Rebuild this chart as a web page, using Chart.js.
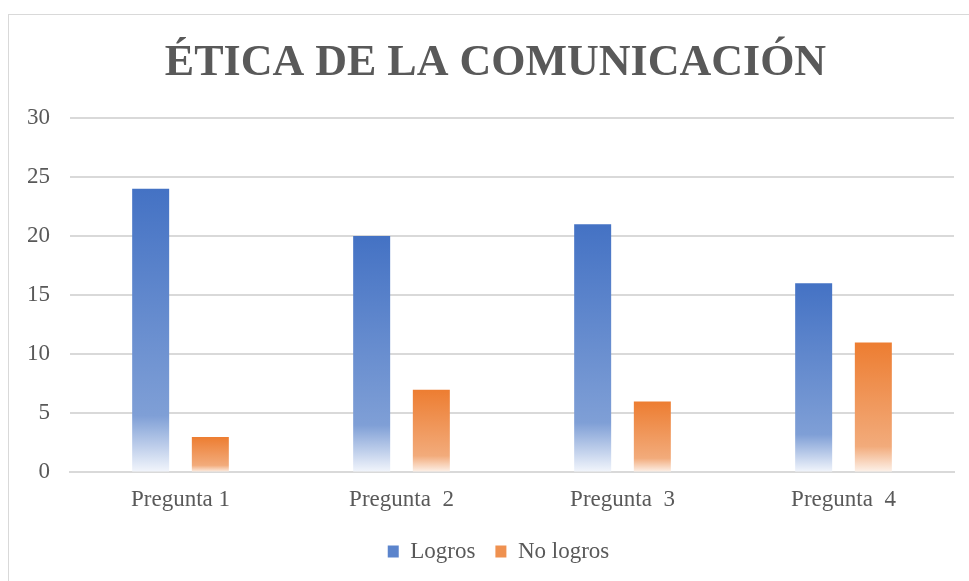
<!DOCTYPE html>
<html>
<head>
<meta charset="utf-8">
<script src="https://cdn.jsdelivr.net/npm/chart.js@4"></script>
<style>
    html, body { margin: 0; padding: 0; background: #fff; overflow: hidden; }
    #frame {
        position: absolute; left: 8px; top: 14px;
        width: 975px; height: 580px;
        border: 1px solid #d9d9d9; box-sizing: border-box;
    }
</style>
</head>
<body>
<div id="frame"><canvas id="chart"></canvas></div>
<script>
    // Chart data
    const categories = ['Pregunta 1', 'Pregunta  2', 'Pregunta  3', 'Pregunta  4'];
    const logros = [24, 20, 21, 16];
    const noLogros = [3, 7, 6, 11];

    // Gradient per bar: solid on top, fading to white at the base
    function barGradient(top, light, pale) {
        return function(context) {
            const chart = context.chart;
            const y = chart.scales.y;
            if (!y || context.raw === undefined) return top;
            const yTop = y.getPixelForValue(context.raw);
            const yBase = y.getPixelForValue(0);
            const g = chart.ctx.createLinearGradient(0, yTop, 0, yBase);
            g.addColorStop(0, top);
            g.addColorStop(0.8, light);
            g.addColorStop(1, pale);
            return g;
        };
    }

    // centre title and legend on the whole frame, not the padded area
    const centerBlocks = {
        id: 'centerBlocks',
        afterLayout: function(chart) {
            if (chart.titleBlock) {
                chart.titleBlock.left += 9;
                chart.titleBlock.right += 9;
            }
            if (chart.legend) {
                chart.legend.left += 12;
                chart.legend.right += 12;
            }
        }
    };

    const ctx = document.getElementById('chart').getContext('2d');
    new Chart(ctx, {
        type: 'bar',
        data: {
            labels: categories,
            datasets: [
                {
                    label: 'Logros',
                    data: logros,
                    backgroundColor: barGradient('#4472c4', '#7f9fd6', '#f3f6fc'),
                    categoryPercentage: 0.54,
                    barPercentage: 0.62
                },
                {
                    label: 'No logros',
                    data: noLogros,
                    backgroundColor: barGradient('#ed7d31', '#f2ab7b', '#fdf3ec'),
                    categoryPercentage: 0.54,
                    barPercentage: 0.62
                }
            ]
        },
        options: {
            responsive: true,
            maintainAspectRatio: false,
            animation: false,
            layout: { padding: { left: 10, right: 28, top: 8, bottom: 20 } },
            plugins: {
                title: {
                    display: true,
                    text: 'ÉTICA DE LA COMUNICACIÓN',
                    color: '#595959',
                    font: { family: 'Liberation Serif', size: 44, weight: 'bold' },
                    padding: { top: 14, bottom: 28 }
                },
                legend: {
                    position: 'bottom',
                    labels: {
                        color: '#595959',
                        font: { family: 'Liberation Serif', size: 23 },
                        boxWidth: 11,
                        boxHeight: 12,
                        padding: 20,
                        generateLabels: function(chart) {
                            return chart.data.datasets.map(function(ds, i) {
                                return {
                                    text: ds.label,
                                    fillStyle: i === 0 ? '#5b84cc' : '#ef9150',
                                    strokeStyle: 'rgba(0,0,0,0)',
                                    lineWidth: 0,
                                    fontColor: '#595959',
                                    datasetIndex: i
                                };
                            });
                        }
                    }
                },
                tooltip: { enabled: false }
            },
            scales: {
                x: {
                    grid: { display: false },
                    border: { color: '#d9d9d9', width: 2 },
                    ticks: {
                        color: '#595959',
                        font: { family: 'Liberation Serif', size: 23 },
                        padding: 6
                    }
                },
                y: {
                    min: 0,
                    max: 30,
                    afterFit: function(scale) { scale.width = 51; },
                    ticks: {
                        stepSize: 5,
                        color: '#595959',
                        font: { family: 'Liberation Serif', size: 23 },
                        padding: 20
                    },
                    grid: { color: '#d9d9d9', lineWidth: 2, drawTicks: false },
                    border: { display: false }
                }
            }
        },
        plugins: [centerBlocks]
    });
</script>
</body>
</html>
